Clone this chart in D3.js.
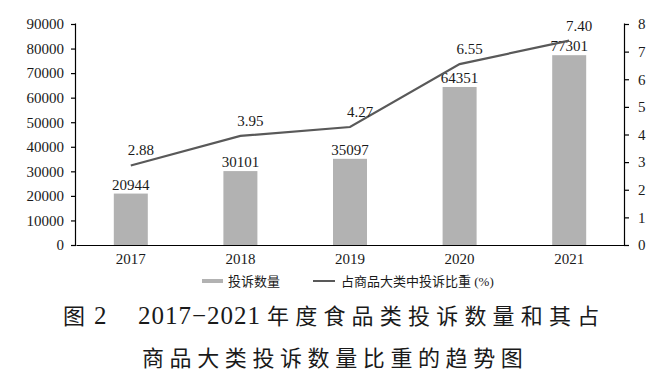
<!DOCTYPE html>
<html><head><meta charset="utf-8">
<script src="https://cdn.jsdelivr.net/npm/d3@7"></script>
<style>
html,body{margin:0;padding:0;background:#fff;}
svg text{fill:#1a1a1a;}
</style></head>
<body>
<svg id="chart" width="670" height="375"></svg>
<script>
const categories = ["2017","2018","2019","2020","2021"];
const complaintCounts = [20944, 30101, 35097, 64351, 77301];
const shareValues = [2.88, 3.95, 4.27, 6.55, 7.40];
const shareLabels = ["2.88","3.95","4.27","6.55","7.40"];
const leftTicks = [0,10000,20000,30000,40000,50000,60000,70000,80000,90000];
const rightTicks = [0,1,2,3,4,5,6,7,8];
const legendBar = "投诉数量";
const legendLine = "占商品大类中投诉比重 (%)";
const titleFig = "图";
const titleNum = "2";
const titleYears = "2017−2021";
const titleLine1Rest = "年度食品类投诉数量和其占";
const titleLine2 = "商品大类投诉数量比重的趋势图";

(function(){
const svg = d3.select("#chart");
const serif = "'Liberation Serif','Times New Roman','Noto Sans CJK SC',serif";
const cjk = "'Noto Sans CJK SC','Liberation Serif',serif";
const mL = 76, mR = 624, mT = 24, mB = 245;

const x = d3.scaleBand().domain(categories).range([mL, mR]).paddingInner(0).paddingOuter(0);
const yL = d3.scaleLinear().domain([0, 90000]).range([mB, mT]);
const yR = d3.scaleLinear().domain([0, 8]).range([mB, mT]);
const barW = 34;

svg.append("g").selectAll("rect").data(complaintCounts).join("rect")
  .attr("x", (d,i) => x(categories[i]) + x.bandwidth()/2 - barW/2)
  .attr("y", d => yL(d))
  .attr("width", barW)
  .attr("height", d => mB - yL(d))
  .attr("fill", "#b2b2b2");

svg.append("g").selectAll("text").data(complaintCounts).join("text")
  .attr("x", (d,i) => x(categories[i]) + x.bandwidth()/2)
  .attr("y", d => yL(d) - 4)
  .attr("text-anchor", "middle")
  .style("font-family", serif).style("font-size", "15px")
  .text(d => d);

const axL = d3.axisLeft(yL).tickValues(leftTicks).tickSize(5).tickPadding(7).tickFormat(d => d);
const gL = svg.append("g").attr("transform", `translate(${mL},0)`).call(axL);
const axR = d3.axisRight(yR).tickValues(rightTicks).tickSize(5).tickPadding(9).tickFormat(d => d);
const gR = svg.append("g").attr("transform", `translate(${mR},0)`).call(axR);
const axB = d3.axisBottom(x).tickSize(0).tickPadding(8);
const gB = svg.append("g").attr("transform", `translate(0,${mB})`).call(axB);
[gL, gR, gB].forEach(g => {
  g.selectAll("path.domain").attr("stroke", "#000").attr("stroke-width", 1.2);
  g.selectAll(".tick line").attr("stroke", "#000").attr("stroke-width", 1.2);
  g.selectAll("text").style("font-family", serif).style("font-size", "15px").attr("fill", "#1a1a1a");
});
gL.select("path.domain").attr("d", `M-0.5,${mT-0.5}V${mB+0.5}`);
gR.select("path.domain").attr("d", `M0.5,${mT-0.5}V${mB+0.5}`);

const line = d3.line()
  .x((d,i) => x(categories[i]) + x.bandwidth()/2)
  .y(d => yR(d));
svg.append("path").datum(shareValues)
  .attr("d", line).attr("fill", "none")
  .attr("stroke", "#595959").attr("stroke-width", 2.2);

svg.append("g").selectAll("text").data(shareValues).join("text")
  .attr("x", (d,i) => x(categories[i]) + x.bandwidth()/2 + 10)
  .attr("y", d => yR(d) - 10)
  .attr("text-anchor", "middle")
  .style("font-family", serif).style("font-size", "15px")
  .text((d,i) => shareLabels[i]);

const lg = svg.append("g");
lg.append("rect").attr("x", 202).attr("y", 279).attr("width", 21).attr("height", 4).attr("fill", "#b2b2b2");
lg.append("text").attr("x", 228).attr("y", 286).style("font-family", cjk).style("font-size", "13px").text(legendBar);
lg.append("line").attr("x1", 313).attr("x2", 335).attr("y1", 281).attr("y2", 281).attr("stroke", "#595959").attr("stroke-width", 2);
lg.append("text").attr("x", 341).attr("y", 286).style("font-family", serif).style("font-size", "13px").text(legendLine);

// title line 1
const t1 = svg.append("text").attr("y", 324);
t1.append("tspan").attr("x", 63).style("font-family", cjk).style("font-size", "22px").text(titleFig);
t1.append("tspan").attr("x", 94).style("font-family", serif).style("font-size", "25px").text(titleNum);
t1.append("tspan").attr("x", 138).style("font-family", serif).style("font-size", "25px").style("letter-spacing", "1px").text(titleYears);
t1.append("tspan").attr("x", 267).style("font-family", cjk).style("font-size", "22px").style("letter-spacing", "6.2px").text(titleLine1Rest);
// title line 2
svg.append("text").attr("x", 142).attr("y", 366)
  .style("font-family", cjk).style("font-size", "22px").style("letter-spacing", "5.6px")
  .text(titleLine2);
})();
</script>
</body></html>
